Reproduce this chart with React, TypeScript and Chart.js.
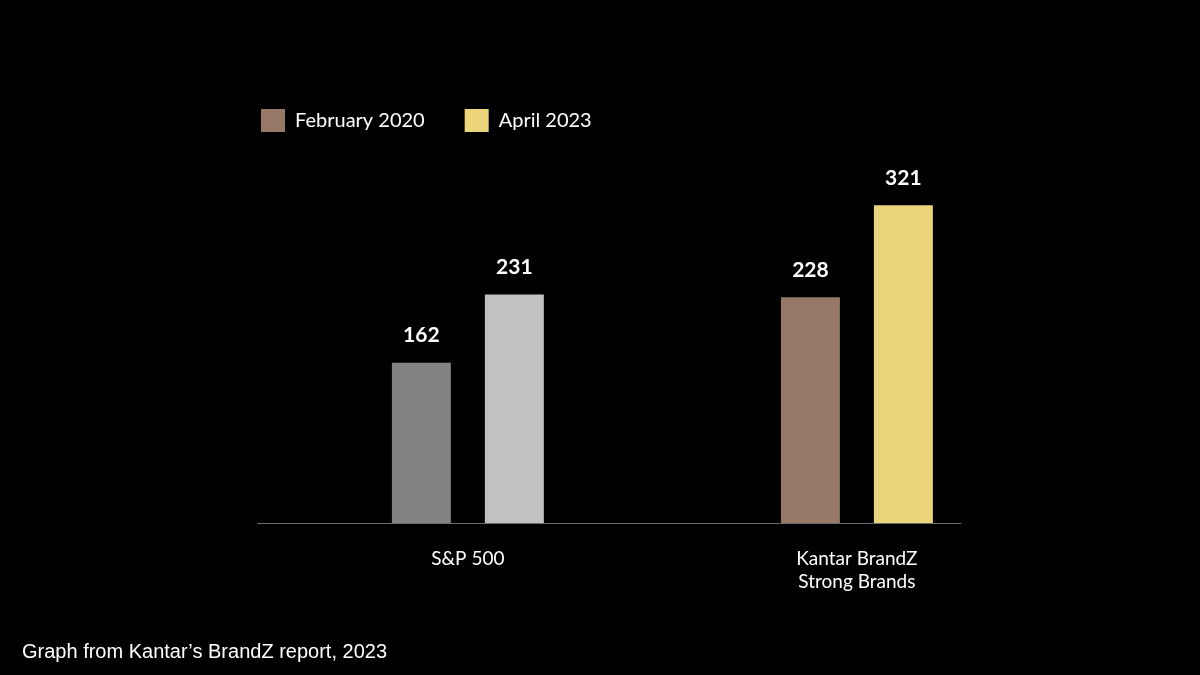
import React, { useEffect, useRef } from "react";
import { Chart, registerables } from "chart.js";

Chart.register(...registerables);

const categories: string[][] = [["S&P 500"], ["Kantar BrandZ", "Strong Brands"]];
const categoryPositions = [0, 1];
const seriesNames = ["February 2020", "April 2023"];
const feb2020 = [162, 228];
const apr2023 = [231, 321];
const febColors = ["#838383", "#967867"];
const aprColors = ["#c0c1c3", "#ebd47a"];
const legendColors = ["#967867", "#ebd47a"];
const footerText = "Graph from Kantar\u2019s BrandZ report, 2023";

const FONT = "Lato, 'Open Sans', sans-serif";

const valueLabels = {
  id: "valueLabels",
  afterDatasetsDraw(chart: any) {
    const ctx = chart.ctx;
    ctx.save();
    ctx.fillStyle = "#ffffff";
    ctx.font = `bold 21px ${FONT}`;
    ctx.textAlign = "center";
    ctx.textBaseline = "middle";
    chart.data.datasets.forEach((ds: any, di: number) => {
      const meta = chart.getDatasetMeta(di);
      meta.data.forEach((bar: any, i: number) => {
        const { x, y } = bar.getProps(["x", "y"], true);
        ctx.fillText(String(ds.data[i].y), x, y - 27);
      });
    });
    ctx.restore();
  },
};

export default function App() {
  const canvasRef = useRef<HTMLCanvasElement | null>(null);

  useEffect(() => {
    document.body.style.margin = "0";
    document.body.style.background = "#000";
    const canvas = canvasRef.current;
    if (!canvas) return;
    const chart = new Chart(canvas, {
      type: "bar",
      data: {
        datasets: [
          {
            label: seriesNames[0],
            data: categoryPositions.map((p, i) => ({ x: p, y: feb2020[i] })),
            backgroundColor: febColors,
            borderWidth: 0,
          },
          {
            label: seriesNames[1],
            data: categoryPositions.map((p, i) => ({ x: p, y: apr2023[i] })),
            backgroundColor: aprColors,
            borderWidth: 0,
          },
        ],
      },
      options: {
        responsive: false,
        animation: false,
        devicePixelRatio: 1,
        layout: { padding: { top: 69, left: 221, right: 240, bottom: 72 } },
        datasets: {
          bar: { categoryPercentage: 0.478, barPercentage: 0.634 },
        },
        plugins: {
          tooltip: { enabled: false },
          legend: {
            display: true,
            position: "top",
            align: "start",
            labels: {
              boxWidth: 24,
              boxHeight: 23,
              padding: 40,
              color: "#ffffff",
              font: { family: FONT, size: 20 },
              generateLabels: () =>
                seriesNames.map((name, i) => ({
                  text: name,
                  fillStyle: legendColors[i],
                  strokeStyle: legendColors[i],
                  lineWidth: 0,
                  fontColor: "#ffffff",
                  datasetIndex: i,
                  hidden: false,
                })),
            },
          },
        },
        scales: {
          x: {
            type: "linear",
            offset: false,
            min: -0.542,
            max: 1.265,
            afterBuildTicks: (scale: any) => {
              scale.ticks = categoryPositions.map((v) => ({ value: v }));
            },
            afterFit: (scale: any) => {
              scale.height = 80;
            },
            ticks: {
              autoSkip: false,
              maxRotation: 0,
              padding: 24,
              color: "#ffffff",
              font: { family: FONT, size: 19, lineHeight: 1.21 },
              callback: (_v: any, index: number) => categories[index],
            },
            grid: { display: false, drawTicks: false, offset: false },
            border: { display: true, color: "#6b6b6b", width: 1 },
          },
          y: {
            min: 0,
            max: 385,
            afterFit: (scale: any) => {
              scale.width = 36;
            },
            ticks: { display: false },
            grid: { display: false, drawTicks: false },
            border: { display: false },
          },
        },
      },
      plugins: [valueLabels],
    });
    return () => chart.destroy();
  }, []);

  return (
    <div style={{ position: "relative", width: 1200, height: 675, background: "#000", overflow: "hidden" }}>
      <canvas ref={canvasRef} width={1200} height={675} style={{ display: "block", width: 1200, height: 675 }} />
      <div
        style={{
          position: "absolute",
          left: 22,
          top: 640.5,
          fontFamily: "'Liberation Sans', Arial, sans-serif",
          fontSize: 20,
          lineHeight: 1,
          color: "#ffffff",
          whiteSpace: "nowrap",
        }}
      >
        {footerText}
      </div>
    </div>
  );
}
